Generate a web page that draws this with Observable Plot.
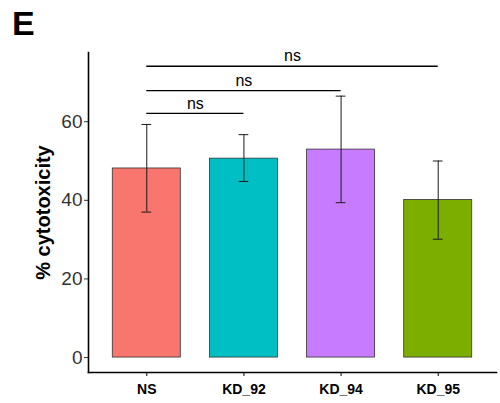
<!DOCTYPE html>
<html>
<head>
<meta charset="utf-8">
<script src="https://cdn.jsdelivr.net/npm/d3@7"></script>
<script src="https://cdn.jsdelivr.net/npm/@observablehq/plot@0.6"></script>
<style>
  html, body { margin: 0; padding: 0; background: #fff; }
  #wrap { position: relative; width: 500px; height: 403px; font-family: "Liberation Sans", Arial, sans-serif; }
  #panel { position: absolute; left: 12px; top: 4px; font-size: 34px; font-weight: bold; color: #000; }
  #chart { position: absolute; left: 0; top: 0; }
</style>
</head>
<body>
<div id="wrap">
  <div id="chart"></div>
  <div id="panel">E</div>
</div>
<script>
const groups = ["NS", "KD_92", "KD_94", "KD_95"];
const means = [48.1, 50.6, 52.9, 40.1];
const errLow = [37.0, 44.8, 39.4, 30.1];
const errHigh = [59.3, 56.7, 66.5, 50.0];
const colors = ["#F8766D", "#00BFC4", "#C77CFF", "#7CAE00"];
const yTicks = [0, 20, 40, 60];
const compareFrom = ["NS", "NS", "NS"];
const compareTo = ["KD_92", "KD_94", "KD_95"];
const compareY = [62.1, 67.9, 74.1];
const compareLabel = ["ns", "ns", "ns"];

const barHalf = 0.35;
const capHalf = 0.05;

const bars = groups.map((g, i) => ({g, i, mean: means[i], lo: errLow[i], hi: errHigh[i], color: colors[i]}));
const brackets = compareFrom.map((f, k) => ({
  a: groups.indexOf(f), b: groups.indexOf(compareTo[k]), y: compareY[k], label: compareLabel[k]
}));

const plot = Plot.plot({
  width: 500,
  height: 403,
  marginLeft: 88,
  marginRight: 4,
  marginTop: 52,
  marginBottom: 31,
  style: {fontFamily: "Liberation Sans, Arial, sans-serif", background: "#fff"},
  x: {domain: [-0.6, groups.length - 0.4], axis: null},
  y: {domain: [-3.8, 77.6], axis: null},
  marks: [
    Plot.rectY(bars, {x1: d => d.i - barHalf, x2: d => d.i + barHalf, y1: 0, y2: "mean", fill: "color", stroke: "#333", strokeWidth: 0.8}),
    Plot.ruleX(bars, {x: "i", y1: "lo", y2: "hi", stroke: "#1a1a1a", strokeWidth: 1}),
    Plot.ruleY(bars, {y: "lo", x1: d => d.i - capHalf, x2: d => d.i + capHalf, stroke: "#1a1a1a", strokeWidth: 1}),
    Plot.ruleY(bars, {y: "hi", x1: d => d.i - capHalf, x2: d => d.i + capHalf, stroke: "#1a1a1a", strokeWidth: 1}),
    Plot.ruleY(brackets, {y: "y", x1: "a", x2: "b", stroke: "#000", strokeWidth: 1.3}),
    Plot.text(brackets, {x: d => (d.a + d.b) / 2, y: "y", text: "label", dy: -10, fontSize: 16, fill: "#000"}),
    Plot.axisY({ticks: yTicks, tickSize: 4, tickPadding: 2, fontSize: 19, color: "#333", label: null}),
    Plot.axisX({ticks: groups.map((g, i) => i), tickFormat: i => groups[i], tickSize: 4, tickPadding: 8, fontSize: 14, fontWeight: "bold", label: null}),
    Plot.frame({anchor: "left", stroke: "#000", strokeWidth: 1.6}),
    Plot.frame({anchor: "bottom", stroke: "#000", strokeWidth: 1.6}),
    Plot.text(["% cytotoxicity"], {frameAnchor: "left", textAnchor: "middle", rotate: -90, dx: -45, fontSize: 20, fontWeight: "bold", fill: "#000"})
  ]
});
document.getElementById("chart").appendChild(plot);
</script>
</body>
</html>
